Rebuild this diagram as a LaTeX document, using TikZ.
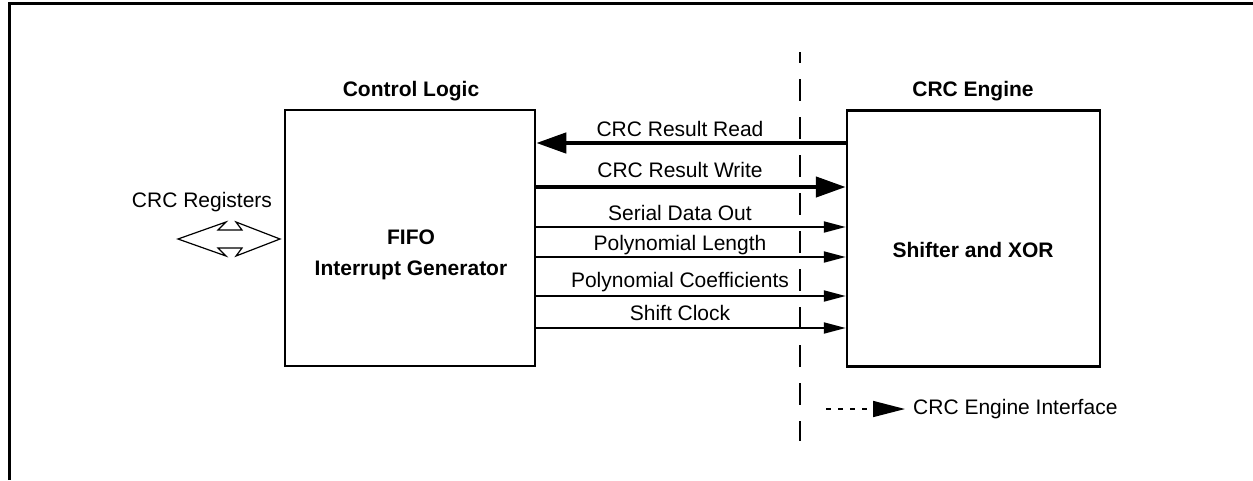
\documentclass[tikz,border=0pt]{standalone}
\usepackage{fontspec}
\setmainfont{Liberation Sans}
\usetikzlibrary{arrows.meta}
\tikzset{
  blk/.style={draw, line width=2.5pt, minimum width=250pt, minimum height=256pt, inner sep=0pt},
  lbl/.style={anchor=base, inner sep=0pt},
  ttl/.style={anchor=base, inner sep=0pt, font=\fontsize{21}{24}\selectfont\bfseries},
  thinarr/.style={line width=2pt, -{Triangle[length=22pt,width=11pt]}},
  thickarr/.style={line width=4.5pt, -{Triangle[length=30pt,width=20pt]}},
  sepline/.style={line width=2.2pt, dash pattern=on 22pt off 16pt, dash phase=11pt},
}
\begin{document}
\begin{tikzpicture}[x=1pt,y=-1pt,font=\fontsize{21}{24}\selectfont]
\useasboundingbox (0,0) rectangle (1253,480);
% frame
\draw[line width=2.5pt] (9.7,480) -- (9.7,3.5) -- (1253,3.5);
% boxes
\node[blk, minimum width=250pt] (cl) at (410,238) {};
\node[blk, minimum width=253pt] (ce) at (973.5,238.5) {};
\node[ttl] (clt) at (411,96) {Control Logic};
\node[ttl] (cet) at (973,96) {CRC Engine};
\node[ttl] (fifo) at (411,244.5) {FIFO};
\node[ttl] (ig) at (411,275.5) {Interrupt Generator};
\node[ttl] (sx) at (973,257.5) {Shifter and XOR};
% separator
\draw[sepline] (800,52) -- (800,441);
% arrows
\draw[thickarr] (ce.west |- 0,143) -- (cl.east |- 0,143);
\draw[thickarr] (cl.east |- 0,187) -- (ce.west |- 0,187);
\draw[thinarr] (cl.east |- 0,227) -- (ce.west |- 0,227);
\draw[thinarr] (cl.east |- 0,257) -- (ce.west |- 0,257);
\draw[thinarr] (cl.east |- 0,296) -- (ce.west |- 0,296);
\draw[thinarr] (cl.east |- 0,328) -- (ce.west |- 0,328);
\node[lbl] (l1) at (680,136) {CRC Result Read};
\node[lbl] (l2) at (680,177) {CRC Result Write};
\node[lbl] (l3) at (680,220) {Serial Data Out};
\node[lbl] (l4) at (680,250) {Polynomial Length};
\node[lbl] (l5) at (680,287) {Polynomial Coefficients};
\node[lbl] (l6) at (680,320) {Shift Clock};
% CRC registers
\node[lbl] (reg) at (202,207) {CRC Registers};
\draw[line width=1.2pt, fill=white] (178,239) -- (226,222) -- (218,230) -- (242,230) -- (236,222) -- (280,239)
  -- (236,256) -- (242,248) -- (218,248) -- (226,256) -- cycle;
% legend
\coordinate (lg1) at (826,409);
\coordinate (lg2) at (905,409);
\draw[line width=1.6pt, dash pattern=on 5pt off 7pt, -{Triangle[length=32pt,width=16pt]}] (lg1) -- (lg2);
\node[anchor=west, inner sep=0pt] (lgt) at (913,409) {CRC Engine Interface};
\end{tikzpicture}
\end{document}
